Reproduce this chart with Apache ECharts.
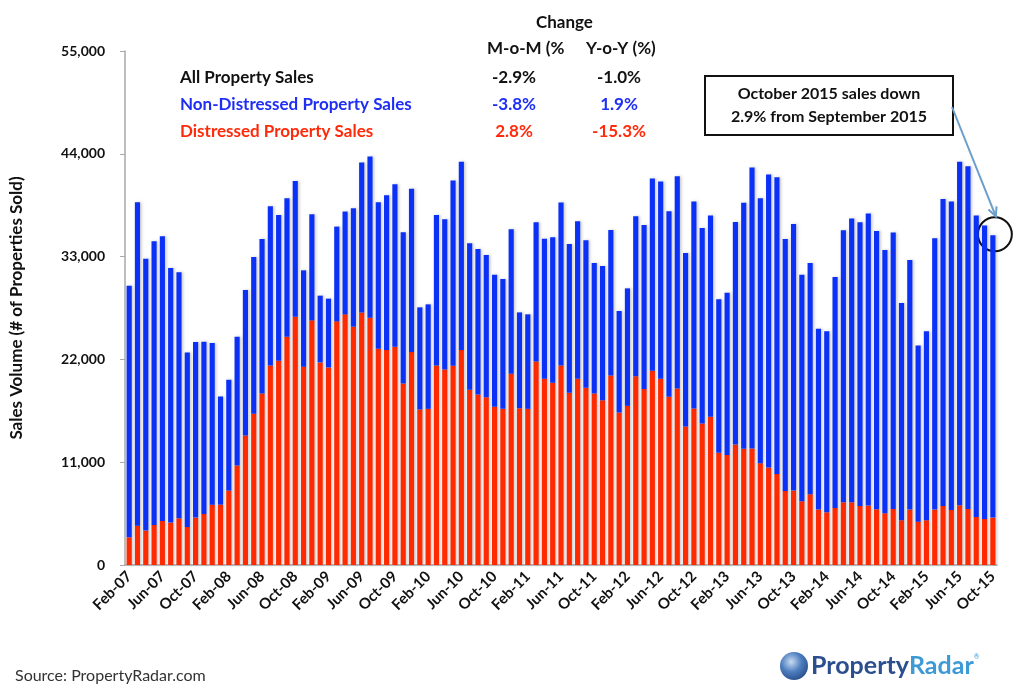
<!DOCTYPE html>
<html lang="en">

<head>
    <meta charset="UTF-8">
    <title>Property Sales Volume</title>
    <style>
        html, body { margin: 0; padding: 0; background: #fff; }
        #container { width: 1024px; height: 696px; }
    </style>
</head>

<body>
    <div id="container"></div>
</body>

<script src="https://cdn.jsdelivr.net/npm/echarts@6/dist/echarts.min.js"></script>

<script>
  // month labels Feb-07 .. Oct-15
  var monthNames = ['Jan', 'Feb', 'Mar', 'Apr', 'May', 'Jun', 'Jul', 'Aug', 'Sep', 'Oct', 'Nov', 'Dec'];
  var months = [];
  for (var y = 2007; y <= 2015; y++) {
    for (var m = 0; m < 12; m++) {
      if (y === 2007 && m < 1) continue;
      if (y === 2015 && m > 9) continue;
      months.push(monthNames[m] + '-' + String(y).slice(2));
    }
  }

  // distressed sales (red, bottom of stack)
  var distressed = [
    2960, 4210, 3680, 4290, 4710, 4540, 5000, 4070, 5070, 5460, 6460, 6460,
    7960, 10640, 13860, 16180, 18360, 21360, 21860, 24430, 26570, 21210, 26180, 21680,
    21140, 26070, 26820, 25500, 27030, 26460, 23140, 23000, 23350, 19430, 22780, 16640,
    16710, 21360, 20930, 21320, 23000, 18750, 18250, 17960, 16930, 16710, 20460, 16780,
    16710, 21780, 19930, 19500, 21360, 18430, 19930, 18960, 18360, 17640, 20280, 16320,
    17030, 20210, 18820, 20780, 19930, 18000, 18890, 14820, 16750, 15140, 15860, 12000,
    11780, 12890, 12430, 12460, 10890, 10430, 9750, 7930, 7960, 6820, 7570, 5930,
    5640, 6110, 6710, 6710, 6320, 6360, 5960, 5540, 6000, 4790, 5930, 4640,
    4790, 5930, 6320, 5890, 6390, 6000, 5140, 4930, 5070
  ];

  // non-distressed sales (blue, top of stack)
  var nonDistressed = [
    26930, 34610, 29100, 30350, 30460, 27240, 26320, 18680, 18780, 18430, 17290, 11570,
    11860, 13790, 15570, 16780, 16530, 17030, 15600, 14820, 14530, 10320, 11350, 7140,
    7360, 10140, 11000, 12670, 16040, 17250, 15680, 16570, 17400, 16170, 17470, 10930,
    11180, 16100, 16070, 19820, 20140, 15670, 15570, 15220, 14140, 13890, 15460, 10250,
    10110, 14890, 14990, 15570, 17420, 15920, 16850, 15790, 13960, 14360, 15570, 10860,
    12570, 17110, 17570, 20570, 21100, 19850, 22710, 18570, 22140, 20930, 21530, 16430,
    17360, 23820, 26320, 30070, 28360, 31350, 31750, 26960, 28540, 24250, 24750, 19350,
    19360, 24710, 29110, 30360, 30350, 31240, 29790, 28170, 29570, 23240, 26710, 18860,
    20210, 29030, 32850, 33000, 36750, 36670, 32250, 31390, 30210
  ];

  // change table in the header
  var rowNames = ['All Property Sales', 'Non-Distressed Property Sales', 'Distressed Property Sales'];
  var rowColors = ['#111111', '#1f2ef5', '#ff2a0a'];
  var momChange = ['-2.9%', '-3.8%', '2.8%'];
  var yoyChange = ['-1.0%', '1.9%', '-15.3%'];

  var FONT = 'Lato, "Open Sans", sans-serif';
  var BLUE = '#0b30f6';
  var RED = '#ff2a00';

  var mainChart = echarts.init(document.getElementById('container'));

  var option = {
    backgroundColor: '#fff',
    animation: false,
    grid: {
      left: 120,
      right: 27,
      top: 51,
      bottom: 131
    },
    xAxis: {
      type: 'category',
      data: months,
      axisLine: {
        lineStyle: { color: '#a8a8a8', width: 1.5 }
      },
      axisTick: {
        interval: 3,
        length: 5,
        lineStyle: { color: '#a8a8a8' }
      },
      axisLabel: {
        interval: 3,
        rotate: 45,
        margin: 9,
        fontFamily: FONT,
        fontWeight: 'bold',
        fontSize: 15,
        color: '#111'
      }
    },
    yAxis: {
      type: 'value',
      min: 0,
      max: 55000,
      interval: 11000,
      name: 'Sales Volume (# of Properties Sold)',
      nameLocation: 'middle',
      nameGap: 100,
      nameRotate: 90,
      nameTextStyle: {
        fontFamily: FONT,
        fontWeight: 'bold',
        fontSize: 17,
        color: '#111'
      },
      axisLine: {
        show: true,
        lineStyle: { color: '#a8a8a8', width: 1.5 }
      },
      axisTick: {
        show: true,
        length: 5,
        lineStyle: { color: '#a8a8a8' }
      },
      splitLine: { show: false },
      axisLabel: {
        margin: 20,
        fontFamily: FONT,
        fontWeight: 'bold',
        fontSize: 14,
        color: '#111',
        formatter: function (v) {
          return v.toLocaleString('en-US');
        }
      }
    },
    series: [{
      name: 'Distressed Property Sales',
      type: 'bar',
      stack: 'sales',
      barWidth: '62%',
      data: distressed,
      itemStyle: {
        color: RED,
        shadowColor: 'rgba(0,0,0,0.22)',
        shadowBlur: 3,
        shadowOffsetX: 1.5
      }
    }, {
      name: 'Non-Distressed Property Sales',
      type: 'bar',
      stack: 'sales',
      barWidth: '62%',
      data: nonDistressed,
      itemStyle: {
        color: BLUE,
        shadowColor: 'rgba(0,0,0,0.22)',
        shadowBlur: 3,
        shadowOffsetX: 1.5
      }
    }]
  };
  mainChart.setOption(option);

  // header table, annotation box and logo
  var graphics = [];
  var headStyle = { fontFamily: FONT, fontWeight: 'bold', fontSize: 17, fill: '#111' };

  graphics.push({
    type: 'text', left: 536, top: 14,
    style: Object.assign({ text: 'Change' }, headStyle)
  });
  graphics.push({
    type: 'text', left: 487, top: 40,
    style: Object.assign({ text: 'M-o-M (%' }, headStyle)
  });
  graphics.push({
    type: 'text', left: 586, top: 40,
    style: Object.assign({ text: 'Y-o-Y (%)' }, headStyle)
  });
  for (var i = 0; i < rowNames.length; i++) {
    var rowY = 78 + i * 27;
    graphics.push({
      type: 'text', x: 180, y: rowY,
      style: { text: rowNames[i], fontFamily: FONT, fontWeight: 'bold', fontSize: 17, fill: rowColors[i], verticalAlign: 'middle' }
    });
    graphics.push({
      type: 'text', x: 514, y: rowY,
      style: { text: momChange[i], fontFamily: FONT, fontWeight: 'bold', fontSize: 17, fill: rowColors[i], align: 'center', verticalAlign: 'middle' }
    });
    graphics.push({
      type: 'text', x: 619, y: rowY,
      style: { text: yoyChange[i], fontFamily: FONT, fontWeight: 'bold', fontSize: 17, fill: rowColors[i], align: 'center', verticalAlign: 'middle' }
    });
  }

  // callout box
  graphics.push({
    type: 'rect',
    shape: { x: 705, y: 76, width: 248, height: 59 },
    style: { fill: '#fff', stroke: '#111', lineWidth: 2 }
  });
  graphics.push({
    type: 'text', x: 829, y: 105,
    style: {
      text: 'October 2015 sales down\n2.9% from September 2015',
      fontFamily: FONT, fontWeight: 'bold', fontSize: 16, lineHeight: 23,
      fill: '#111', align: 'center', verticalAlign: 'middle'
    }
  });

  // circle around the last bar and the arrow pointing to it
  var last = months.length - 1;
  var lastTop = mainChart.convertToPixel({ seriesIndex: 1 }, [last, distressed[last] + nonDistressed[last]]);
  var cx = lastTop[0] + 2, cy = lastTop[1] - 1;
  graphics.push({
    type: 'circle',
    shape: { cx: cx, cy: cy, r: 17 },
    style: { fill: 'none', stroke: '#111', lineWidth: 2 }
  });
  var ax = 952, ay = 107, bx = cx + 1, by = cy - 18;
  var ang = Math.atan2(by - ay, bx - ax);
  graphics.push({
    type: 'line',
    shape: { x1: ax, y1: ay, x2: bx, y2: by },
    style: { stroke: '#6a9ecb', lineWidth: 2 }
  });
  graphics.push({
    type: 'polyline',
    shape: {
      points: [
        [bx - 10 * Math.cos(ang - 0.45), by - 10 * Math.sin(ang - 0.45)],
        [bx, by],
        [bx - 10 * Math.cos(ang + 0.45), by - 10 * Math.sin(ang + 0.45)]
      ]
    },
    style: { fill: 'none', stroke: '#6a9ecb', lineWidth: 2 }
  });

  // source note
  graphics.push({
    type: 'text', x: 15, y: 676,
    style: { text: 'Source: PropertyRadar.com', fontFamily: FONT, fontSize: 16, fill: '#333', verticalAlign: 'middle' }
  });

  // logo
  graphics.push({
    type: 'circle',
    shape: { cx: 794, cy: 666, r: 14 },
    style: {
      fill: new echarts.graphic.RadialGradient(0.4, 0.35, 0.8, [
        { offset: 0, color: '#c9dcf2' },
        { offset: 0.45, color: '#4f7fc0' },
        { offset: 1, color: '#1d3f7a' }
      ])
    }
  });
  graphics.push({
    type: 'text', x: 811, y: 666,
    style: {
      text: '{a|Property}{b|Radar}{c|®}',
      verticalAlign: 'middle',
      rich: {
        a: { fontFamily: FONT, fontSize: 25, fontWeight: 'bold', fill: '#2b4f8e', color: '#2b4f8e' },
        b: { fontFamily: FONT, fontSize: 25, fontWeight: 'bold', fill: '#3d9ad6', color: '#3d9ad6' },
        c: { fontFamily: FONT, fontSize: 7, fill: '#3d9ad6', color: '#3d9ad6', verticalAlign: 'top' }
      }
    }
  });

  mainChart.setOption({ graphic: graphics });
</script>

</html>
